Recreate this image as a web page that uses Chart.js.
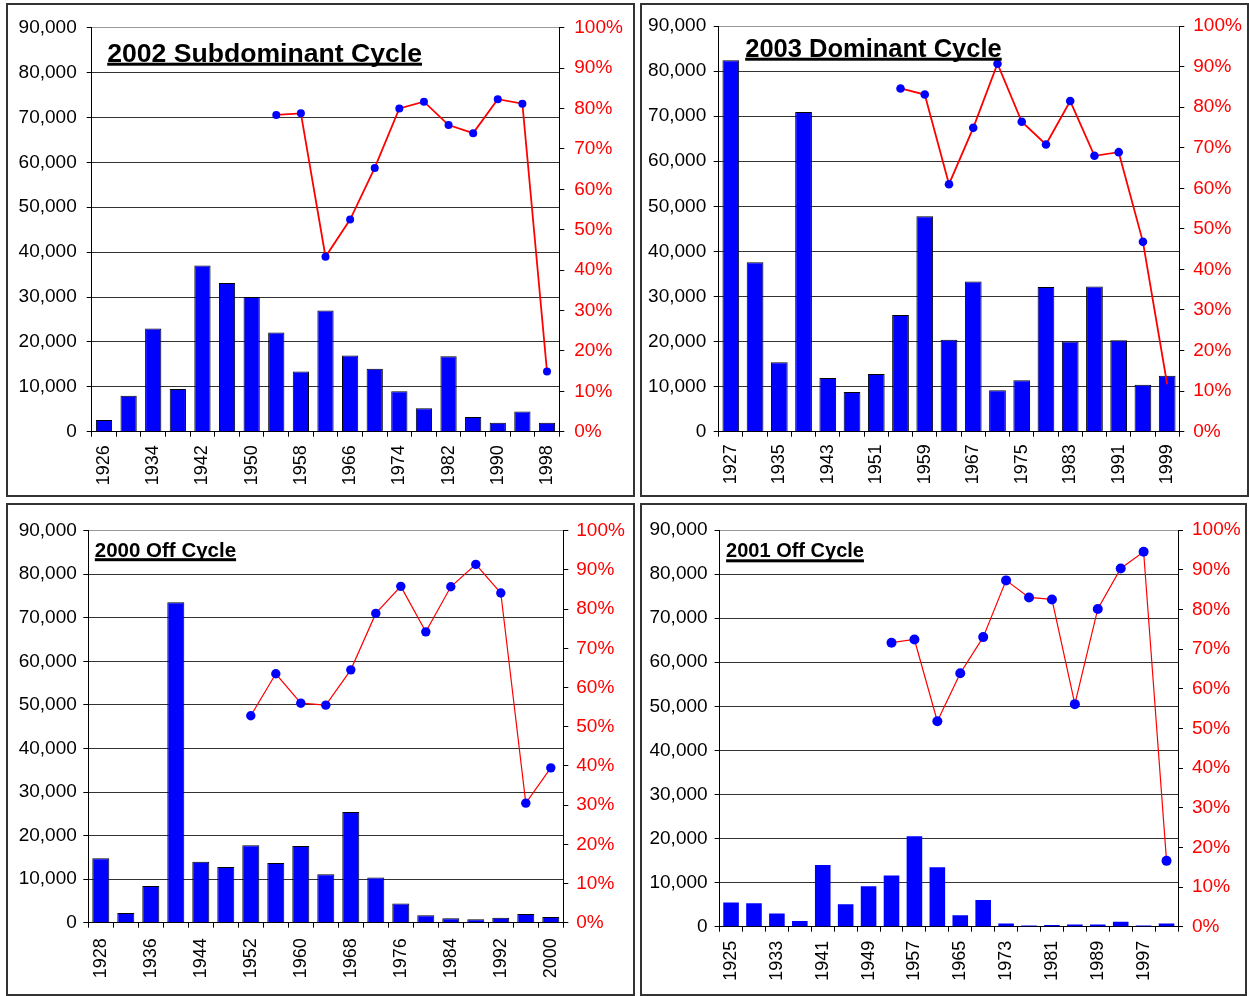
<!DOCTYPE html>
<html>
<head>
<meta charset="utf-8">
<script src="https://cdn.jsdelivr.net/npm/chart.js@4/dist/chart.umd.min.js"></script>
<style>
  body { margin: 0; background: #fff; }
  .panel { position: absolute; box-sizing: border-box; border: 2px solid #333; background: #fff; }
  .panel canvas { display: block; }
</style>
</head>
<body>
<div class="panel" style="left:6px;top:3px;width:629px;height:494px"><canvas id="c2002" width="625" height="490"></canvas></div>
<div class="panel" style="left:640px;top:3px;width:609px;height:494px"><canvas id="c2003" width="605" height="490"></canvas></div>
<div class="panel" style="left:6px;top:503px;width:629px;height:493px"><canvas id="c2000" width="625" height="489"></canvas></div>
<div class="panel" style="left:640px;top:503px;width:607px;height:493px"><canvas id="c2001" width="603" height="489"></canvas></div>
<script>
// --- data ---
const years2002 = [1926, 1930, 1934, 1938, 1942, 1946, 1950, 1954, 1958, 1962, 1966, 1970, 1974, 1978, 1982, 1986, 1990, 1994, 1998];
const bars2002 = [2600, 8000, 23000, 9500, 37000, 33100, 30000, 22100, 13400, 27000, 17000, 14000, 9000, 5200, 16800, 3300, 2000, 4500, 2000];
const pct2002 = [null, null, null, null, null, null, null, 0.784, 0.788, 0.433, 0.525, 0.653, 0.800, 0.817, 0.759, 0.739, 0.823, 0.812, 0.149];

const years2003 = [1927, 1931, 1935, 1939, 1943, 1947, 1951, 1955, 1959, 1963, 1967, 1971, 1975, 1979, 1983, 1987, 1991, 1995, 1999];
const bars2003 = [82400, 37600, 15400, 70900, 11900, 8800, 12800, 25900, 47800, 20400, 33300, 9200, 11400, 32100, 20000, 32200, 20300, 10400, 12400];
const pct2003 = [null, null, null, null, null, null, null, 0.846, 0.831, 0.610, 0.749, 0.907, 0.764, 0.708, 0.815, 0.680, 0.689, 0.468, 0.117];

const years2000 = [1928, 1932, 1936, 1940, 1944, 1948, 1952, 1956, 1960, 1964, 1968, 1972, 1976, 1980, 1984, 1988, 1992, 1996, 2000];
const bars2000 = [14800, 2200, 8400, 73600, 14000, 12800, 17800, 13700, 17600, 11100, 25400, 10400, 4400, 1700, 1000, 800, 1150, 2000, 1300];
const pct2000 = [null, null, null, null, null, null, 0.528, 0.635, 0.560, 0.555, 0.645, 0.789, 0.858, 0.742, 0.857, 0.914, 0.841, 0.305, 0.395];

const years2001 = [1925, 1929, 1933, 1937, 1941, 1945, 1949, 1953, 1957, 1961, 1965, 1969, 1973, 1977, 1981, 1985, 1989, 1993, 1997, 2001];
const bars2001 = [5500, 5300, 3000, 1300, 14000, 5100, 9200, 11600, 20500, 13500, 2600, 6050, 750, 300, 400, 500, 500, 1100, 250, 700];
const pct2001 = [null, null, null, null, null, null, null, 0.716, 0.724, 0.518, 0.639, 0.730, 0.873, 0.830, 0.825, 0.561, 0.801, 0.903, 0.945, 0.166];

const leftTicks = [0, 10000, 20000, 30000, 40000, 50000, 60000, 70000, 80000, 90000];
const rightTicks = [0, 0.1, 0.2, 0.3, 0.4, 0.5, 0.6, 0.7, 0.8, 0.9, 1];

Chart.defaults.font.family = '"Liberation Sans", Arial, sans-serif';

// title drawn inside the plot area, bold + underlined
const panelTitle = {
  id: "panelTitle",
  afterDraw(chart, args, opts) {
    const { ctx, chartArea } = chart;
    ctx.save();
    ctx.font = "bold " + opts.size + 'px "Liberation Sans", Arial, sans-serif';
    ctx.fillStyle = "#000";
    ctx.textBaseline = "alphabetic";
    const x = chartArea.left + opts.dx;
    const y = chartArea.top + opts.dy;
    ctx.fillText(opts.text, x, y);
    const w = ctx.measureText(opts.text).width;
    ctx.fillRect(x, y + opts.gap, w, opts.thick);
    ctx.restore();
  },
};

function drawPanel(id, years, bars, pct, s) {
  new Chart(document.getElementById(id), {
    type: "bar",
    data: {
      labels: years,
      datasets: [
        {
          type: "line",
          data: pct,
          yAxisID: "yR",
          borderColor: "#ff0000",
          borderWidth: s.lineW,
          pointBackgroundColor: "#0000ff",
          pointBorderColor: "#0000ff",
          pointBorderWidth: 0,
          pointRadius: (c) => (c.dataIndex === s.noPoint ? 0 : s.r),
          tension: 0,
          order: 0,
        },
        {
          type: "bar",
          data: bars,
          yAxisID: "y",
          backgroundColor: "#0000ff",
          borderColor: "#000",
          borderWidth: s.barBorder,
          borderSkipped: "bottom",
          categoryPercentage: 1,
          barPercentage: s.barPct,
          order: 1,
        },
      ],
    },
    options: {
      responsive: false,
      animation: false,
      layout: { padding: { top: s.top, left: 0, right: 0, bottom: 0 } },
      plugins: {
        legend: { display: false },
        tooltip: { enabled: false },
        panelTitle: s.title,
      },
      scales: {
        x: {
          offset: true,
          grid: { offset: true, drawOnChartArea: false, tickLength: 5, color: "#000" },
          border: { color: "#000", width: 1 },
          ticks: {
            autoSkip: false,
            minRotation: 90,
            maxRotation: 90,
            padding: s.xPad,
            color: "#000",
            font: { size: 18 },
            callback: (v, i) => (i % 2 === 0 ? years[i] : ""),
          },
          afterFit: (sc) => { sc.height = s.bottom; },
        },
        y: {
          position: "left",
          min: 0,
          max: 90000,
          afterBuildTicks: (sc) => { sc.ticks = leftTicks.map((v) => ({ value: v })); },
          grid: {
            color: (c) => (c.tick && c.tick.value === 90000 ? "#999" : "#333"),
            tickColor: "#000",
            tickLength: 5,
          },
          border: { color: "#000", width: 1 },
          ticks: {
            padding: s.yPad,
            color: "#000",
            font: { size: 19 },
            callback: (v) => v.toLocaleString("en-US"),
          },
          afterFit: (sc) => { sc.width = s.left; },
        },
        yR: {
          position: "right",
          min: 0,
          max: 1,
          afterBuildTicks: (sc) => { sc.ticks = rightTicks.map((v) => ({ value: v })); },
          grid: { drawOnChartArea: false, tickLength: 5, color: "#000" },
          border: { color: "#000", width: 1 },
          ticks: {
            padding: s.rPad,
            color: "#ff0000",
            font: { size: 19 },
            callback: (v) => Math.round(v * 100) + "%",
          },
          afterFit: (sc) => { sc.width = s.right; },
        },
      },
    },
    plugins: [panelTitle],
  });
}

drawPanel("c2002", years2002, bars2002, pct2002, {
  left: 83.7, right: 73.7, top: 22.7, bottom: 63.3,
  xPad: 8.5, yPad: 10, rPad: 10,
  lineW: 1.8, r: 4, barBorder: 1, barPct: 0.66, noPoint: -1,
  title: { text: "2002 Subdominant Cycle", size: 26.6, dx: 15.5, dy: 34, gap: 1, thick: 3 },
});
drawPanel("c2003", years2003, bars2003, pct2003, {
  left: 76.7, right: 67.7, top: 21, bottom: 63.3,
  xPad: 7.5, yPad: 7.5, rPad: 9,
  lineW: 1.8, r: 4.3, barBorder: 1, barPct: 0.69, noPoint: 18,
  title: { text: "2003 Dominant Cycle", size: 25.5, dx: 26.5, dy: 30.7, gap: 1, thick: 3 },
});
drawPanel("c2000", years2000, bars2000, pct2000, {
  left: 80.3, right: 69.7, top: 25.7, bottom: 71.3,
  xPad: 10.5, yPad: 6.5, rPad: 8,
  lineW: 1.2, r: 4.7, barBorder: 1, barPct: 0.68, noPoint: -1,
  title: { text: "2000 Off Cycle", size: 20.5, dx: 6.5, dy: 26, gap: 1.5, thick: 3 },
});
drawPanel("c2001", years2001, bars2001, pct2001, {
  left: 77.6, right: 67, top: 25, bottom: 67.3,
  xPad: 9, yPad: 7, rPad: 9,
  lineW: 1.2, r: 5, barBorder: 0, barPct: 0.68, noPoint: -1,
  title: { text: "2001 Off Cycle", size: 20, dx: 6.5, dy: 27.3, gap: 2, thick: 3 },
});
</script>
</body>
</html>
